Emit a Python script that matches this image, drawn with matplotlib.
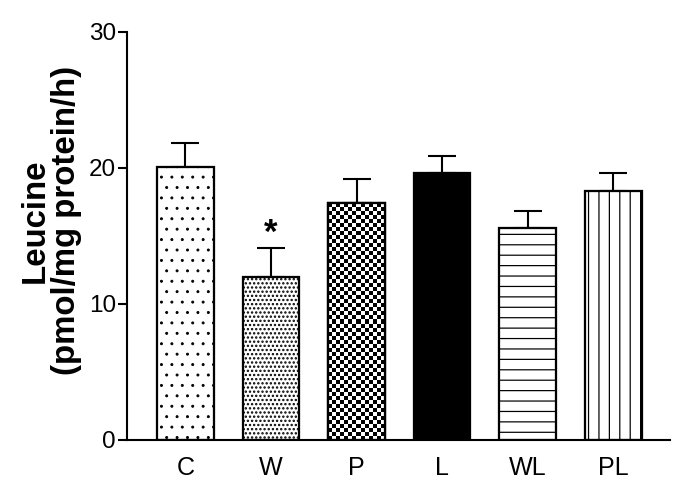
import matplotlib
matplotlib.use("Agg")
import matplotlib.pyplot as plt
import numpy as np

plt.rcParams['font.family'] = ['Liberation Sans', 'DejaVu Sans']
plt.rcParams['hatch.linewidth'] = 0.7

# data
groups = ["C", "W", "P", "L", "WL", "PL"]
means = [20.1, 12.0, 17.4, 19.6, 15.6, 18.3]
sem = [1.7, 2.1, 1.8, 1.3, 1.2, 1.3]
hatches = ["..", ".....", None, None, "--", "||"]
hatch_lw = [0.5, 0.9, 0.7, 0.7, 0.7, 0.7]
fills = ["white", "white", "white", "black", "white", "white"]
signif = ["", "*", "", "", "", ""]


def checker_fill(ax, bar, cell_px=4):
    """Fill a bar with a black/white checkerboard, clipped to the bar"""
    x0, y0 = bar.get_x(), bar.get_y()
    w, h = bar.get_width(), bar.get_height()
    p0 = ax.transData.transform((x0, y0))
    p1 = ax.transData.transform((x0 + w, y0 + h))
    nx = max(1, int(round(abs(p1[0] - p0[0]) / cell_px)))
    ny = max(1, int(round(abs(p1[1] - p0[1]) / cell_px)))
    board = (np.add.outer(np.arange(ny), np.arange(nx)) % 2).astype(float)
    im = ax.imshow(board, cmap="gray", extent=(x0, x0 + w, y0, y0 + h),
                   origin="lower", interpolation="nearest", aspect="auto",
                   zorder=2.5, vmin=0, vmax=1)
    im.set_clip_path(bar)


def main():
    fig = plt.figure(figsize=(5.44, 3.928), dpi=125)
    ax = fig.add_axes([0.187, 0.104, 0.798, 0.831])
    x = np.arange(len(groups))

    ax.set_xlim(-0.68, 5.66)
    ax.set_ylim(0, 30)

    bars = []
    for xi, m, c, h, lw in zip(x, means, fills, hatches, hatch_lw):
        with plt.rc_context({'hatch.linewidth': lw}):
            b = ax.bar(xi, m, width=0.66, color=c, edgecolor="black",
                       linewidth=1.3, zorder=2, hatch=h)[0]
        if hasattr(b, "set_hatch_linewidth"):
            b.set_hatch_linewidth(lw)
        bars.append(b)
    checker_fill(ax, bars[2])
    # outline of the checker bar above the image
    ax.bar(x[2], means[2], width=0.66, color="none", edgecolor="black",
           linewidth=1.3, zorder=3)
    ax.set_xlim(-0.68, 5.66)
    ax.set_ylim(0, 30)

    ax.errorbar(x, means, yerr=[np.zeros(len(sem)), sem], fmt="none",
                ecolor="black", elinewidth=1.2, capsize=8, capthick=1.2,
                zorder=1)

    for xi, m, s, lab in zip(x, means, sem, signif):
        if lab:
            ax.text(xi, m + s + 0.4, lab, ha="center", va="baseline",
                    fontsize=20, fontweight="bold")

    ax.set_yticks([0, 10, 20, 30])
    ax.set_xticks(x)
    ax.set_xticklabels(groups)
    ax.tick_params(axis="y", direction="out", length=5, width=1.2,
                   labelsize=14, pad=1.5)
    ax.tick_params(axis="x", length=0, labelsize=14.5, pad=9)

    for side in ["top", "right"]:
        ax.spines[side].set_visible(False)
    for side in ["left", "bottom"]:
        ax.spines[side].set_linewidth(1.2)

    ax.set_ylabel("Leucine\n(pmol/mg protein/h)", fontsize=19,
                  fontweight="bold", linespacing=1.0)
    ax.yaxis.set_label_coords(-0.083, 0.537)

    fig.savefig("out.png", dpi=125)


if __name__ == "__main__":
    main()
